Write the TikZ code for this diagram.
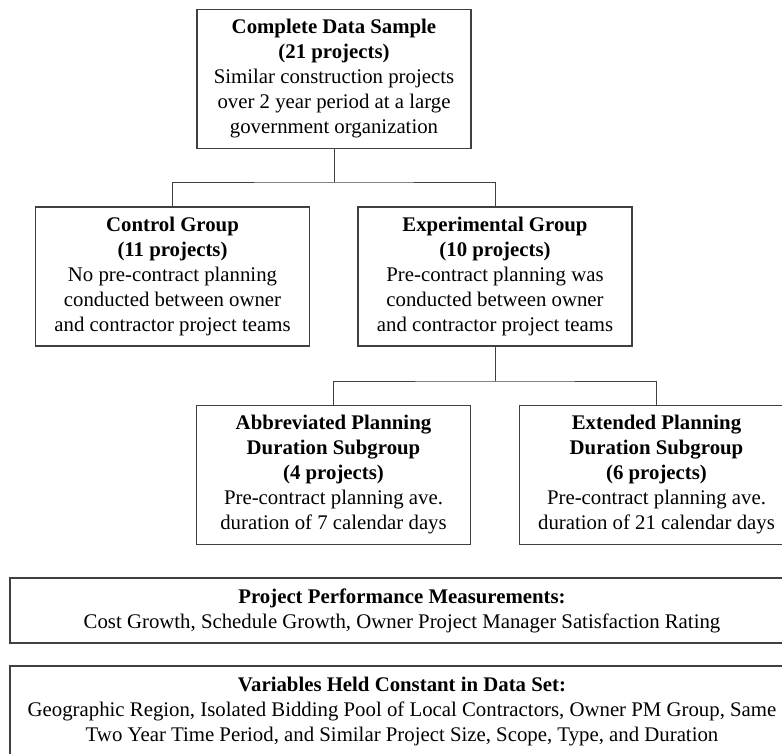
\documentclass[tikz,border=0pt]{standalone}
\usepackage{fontspec}
\setmainfont{Liberation Serif}
\begin{document}
\begin{tikzpicture}[x=1pt,y=-1pt,
        box/.style={draw=black!75,line width=1.3pt,align=center,inner sep=0pt,
            minimum width=274pt,minimum height=139pt,font=\fontsize{20.8}{25}\selectfont},
        wide/.style={box,minimum width=784pt},
        link/.style={draw=black!75,line width=1pt}]
        \clip (0,0) rectangle (782,753);
        \node[box](all)at(334,79) {\textbf{Complete Data Sample}\\\textbf{(21 projects)}\\Similar construction projects\\over 2 year period at a large\\government organization};
        \node[box](ctrl)at(172.5,276.5) {\textbf{Control Group}\\\textbf{(11 projects)}\\No pre-contract planning\\conducted between owner\\and contractor project teams};
        \node[box](exp)at(495,276.5) {\textbf{Experimental Group}\\\textbf{(10 projects)}\\Pre-contract planning was\\conducted between owner\\and contractor project teams};
        \node[box](abbr)at(333.5,475) {\textbf{Abbreviated Planning}\\\textbf{Duration Subgroup}\\\textbf{(4 projects)}\\Pre-contract planning ave.\\duration of 7 calendar days};
        \node[box](ext)at(656.5,475) {\textbf{Extended Planning}\\\textbf{Duration Subgroup}\\\textbf{(6 projects)}\\Pre-contract planning ave.\\duration of 21 calendar days};
        \node[wide,minimum height=65pt](perf)at(402,610.5) {\textbf{Project Performance Measurements:}\\Cost Growth, Schedule Growth, Owner Project Manager Satisfaction Rating};
        \node[wide,minimum height=92pt](vars)at(402,712) {\textbf{Variables Held Constant in Data Set:}\\Geographic Region, Isolated Bidding Pool of Local Contractors, Owner PM Group, Same\\Two Year Time Period, and Similar Project Size, Scope, Type, and Duration};

        \coordinate (f1) at (334,182);
        \coordinate (f2) at (495,381);
        \draw[link](all) -- (f1);
        \draw[link](ctrl) |- (f1) -| (exp);
        \draw[link](exp) -- (f2);
        \draw[link](abbr) |- (f2) -| (ext);
    \end{tikzpicture}
\end{document}
